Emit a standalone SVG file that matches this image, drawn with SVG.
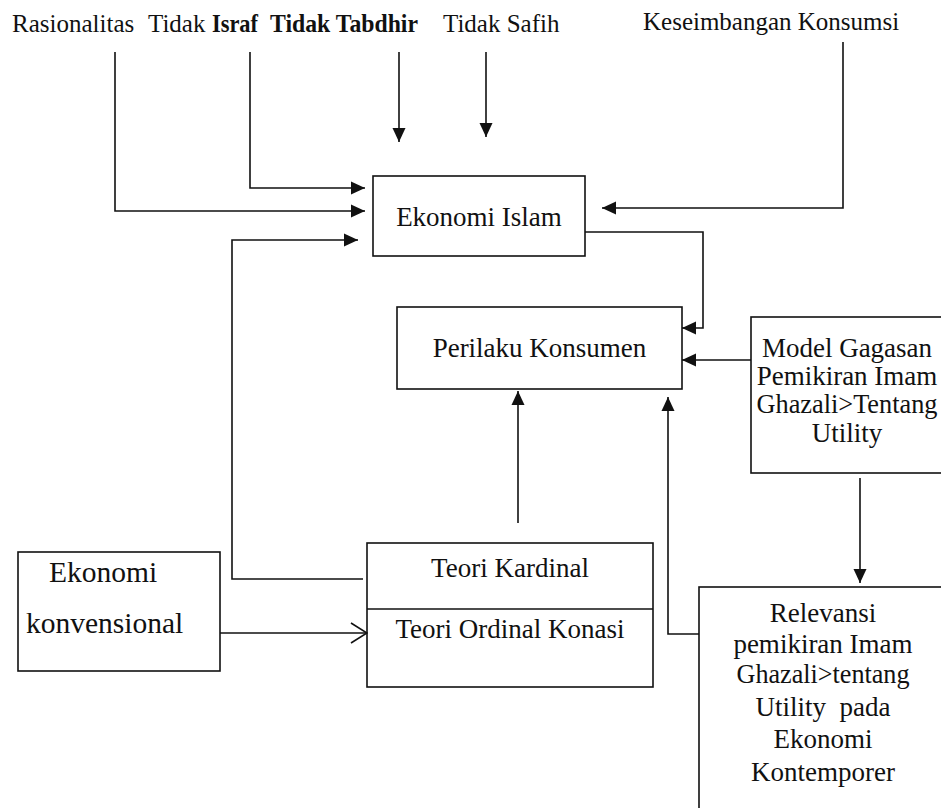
<svg xmlns="http://www.w3.org/2000/svg" width="941" height="808" viewBox="0 0 941 808">
<style>
text{font-family:"Liberation Serif","Times New Roman",serif;fill:#111}
.lbl{font-size:25px}
.bx{font-size:27px;text-anchor:middle}
.node{fill:#fff;stroke:#111;stroke-width:1.6}
.c{fill:none;stroke:#111;stroke-width:1.6}
.a{marker-end:url(#ah)}
</style>
<defs>
<marker id="ah" viewBox="0 0 14 14" markerWidth="14" markerHeight="14" refX="14" refY="7" orient="auto" markerUnits="userSpaceOnUse"><path d="M0,0.5 L14,7 L0,13.5 z" fill="#111"/></marker>
<marker id="oa" viewBox="0 0 18 22" markerWidth="18" markerHeight="22" refX="17" refY="11" orient="auto" markerUnits="userSpaceOnUse"><path d="M1,1 L17,11 L1,21" fill="none" stroke="#111" stroke-width="1.6"/></marker>
</defs>
<rect width="941" height="808" fill="#fff"/>

<g id="labels">
<text class="lbl" x="12" y="32">Rasionalitas</text>
<text class="lbl" x="148" y="32">Tidak</text>
<text class="lbl" x="212" y="32" font-weight="bold" textLength="46" lengthAdjust="spacingAndGlyphs">Israf</text>
<text class="lbl" x="270" y="32" font-weight="bold" textLength="148" lengthAdjust="spacingAndGlyphs">Tidak Tabdhir</text>
<text class="lbl" x="443" y="32">Tidak Safih</text>
<text class="lbl" x="643" y="30">Keseimbangan Konsumsi</text>
</g>

<g id="ekonomi-islam">
<rect class="node" x="373" y="176" width="212" height="80"/>
<text class="bx" x="479" y="226">Ekonomi Islam</text>
</g>

<g id="perilaku-konsumen">
<rect class="node" x="397" y="307" width="285" height="82"/>
<text class="bx" x="539.5" y="357">Perilaku Konsumen</text>
</g>

<g id="model-gagasan">
<rect class="node" x="751" y="317" width="210" height="156"/>
<text class="bx" x="847" y="357">Model Gagasan</text>
<text class="bx" x="847" y="385">Pemikiran Imam</text>
<text class="bx" x="847" y="413" textLength="181" lengthAdjust="spacingAndGlyphs">Ghazali&gt;Tentang</text>
<text class="bx" x="847" y="442">Utility</text>
</g>

<g id="ekonomi-konvensional">
<rect class="node" x="18" y="552" width="202" height="119"/>
<text x="49" y="582" style="font-size:29.5px">Ekonomi</text>
<text x="26" y="633" style="font-size:29.5px">konvensional</text>
</g>

<g id="teori">
<rect class="node" x="367" y="543" width="286" height="144"/>
<line class="c" x1="367" y1="609" x2="653" y2="609"/>
<text class="bx" x="510" y="577">Teori Kardinal</text>
<text class="bx" x="510" y="638">Teori Ordinal Konasi</text>
</g>

<g id="relevansi">
<rect class="node" x="699" y="587" width="260" height="240"/>
<text class="bx" x="823" y="622">Relevansi</text>
<text class="bx" x="823" y="653">pemikiran Imam</text>
<text class="bx" x="823" y="683" textLength="173" lengthAdjust="spacingAndGlyphs">Ghazali&gt;tentang</text>
<text class="bx" x="823" y="716" xml:space="preserve">Utility  pada</text>
<text class="bx" x="823" y="748">Ekonomi</text>
<text class="bx" x="823" y="781">Kontemporer</text>
</g>

<g id="connectors">
<path class="c a" d="M115,52 V211 H365"/>
<path class="c a" d="M250,52 V188 H365"/>
<path class="c a" d="M399,52 V142"/>
<path class="c a" d="M486,52 V137"/>
<path class="c a" d="M843,42 V208 H602"/>
<path class="c a" d="M585,232 H703 V328 H682"/>
<path class="c a" d="M751,360 H682"/>
<path class="c a" d="M860,478 V583"/>
<path class="c a" d="M363,579 H232 V240 H358"/>
<path class="c a" d="M518,523 V391"/>
<path class="c a" d="M699,634 H668 V397"/>
<path class="c" d="M220,633 H367" marker-end="url(#oa)"/>
</g>
</svg>
